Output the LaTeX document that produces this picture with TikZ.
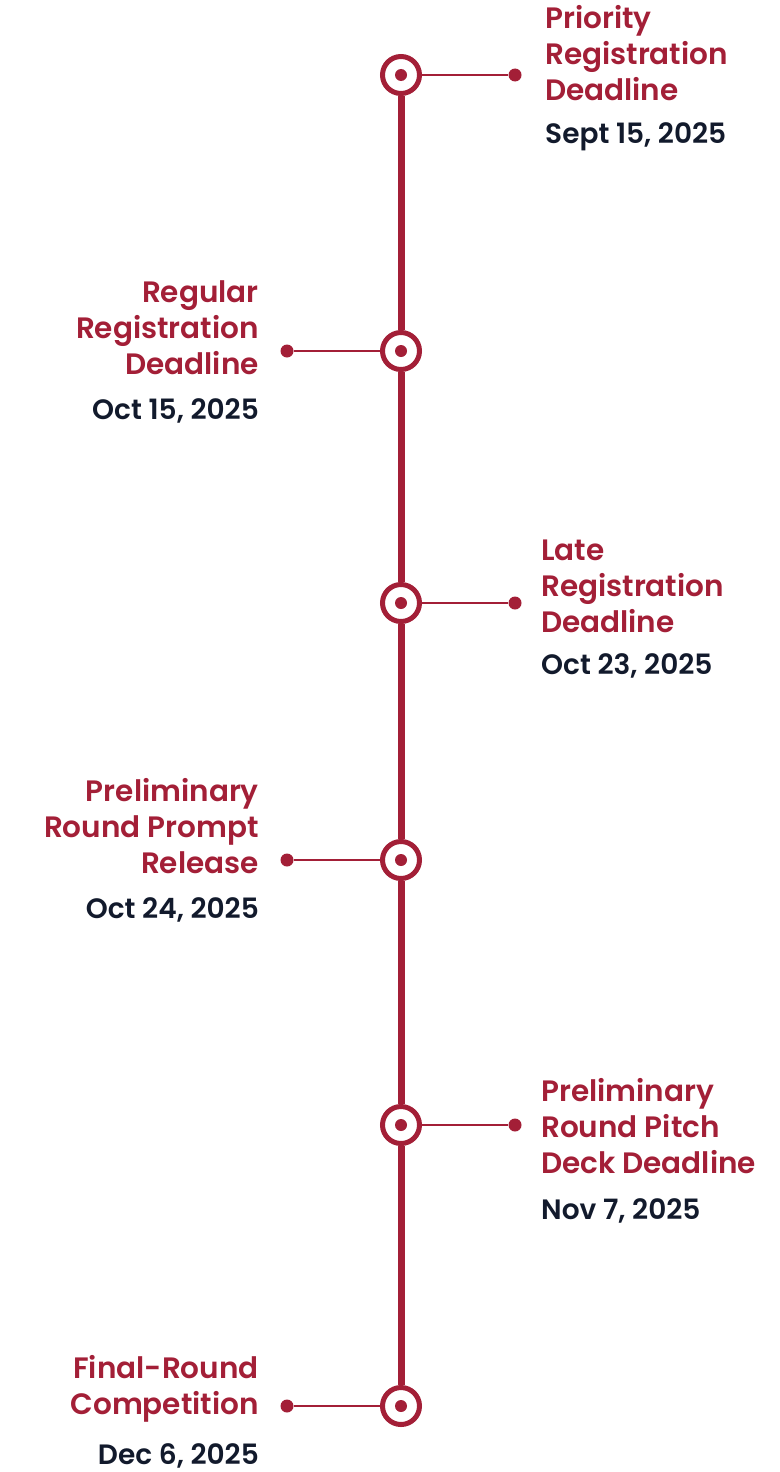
\documentclass[tikz,border=0pt]{standalone}
\usepackage{fontspec}
\setmainfont{Poppins}[UprightFont=* SemiBold]
\usepackage{tikz}
\usetikzlibrary{positioning}
\definecolor{brand}{HTML}{A31F37}
\definecolor{ink}{HTML}{121A2C}

\begin{document}
\begin{tikzpicture}[x=1pt, y=-1pt,
    milestone/.style={circle, draw=brand, line width=5pt, fill=white, minimum size=37pt, inner sep=0pt,
        path picture={\fill[brand] (path picture bounding box.center) circle (6pt);}},
    enddot/.style={circle, fill=brand, minimum size=13pt, inner sep=0pt},
    spine/.style={line width=7pt, color=brand},
    link/.style={line width=2pt, color=brand},
    title/.style={font=\fontsize{29.5}{36}\selectfont, text=brand, inner sep=0pt},
    date/.style={font=\fontsize{28}{32}\selectfont, text=ink, inner sep=0pt}
]
    \useasboundingbox (0,0) rectangle (779,1472);

    % Milestones on the spine
    \node[milestone] (m1) at (401,75) {};
    \node[milestone] (m2) at (401,351) {};
    \node[milestone] (m3) at (401,603) {};
    \node[milestone] (m4) at (401,860) {};
    \node[milestone] (m5) at (401,1125) {};
    \node[milestone] (m6) at (401,1406) {};

    \draw[spine] (m1) -- (m2);
    \draw[spine] (m2) -- (m3);
    \draw[spine] (m3) -- (m4);
    \draw[spine] (m4) -- (m5);
    \draw[spine] (m5) -- (m6);

    % Connector ends
    \node[enddot] (e1) at (515,75) {};
    \node[enddot] (e2) at (287,351) {};
    \node[enddot] (e3) at (515,603) {};
    \node[enddot] (e4) at (287,860) {};
    \node[enddot] (e5) at (515,1125) {};
    \node[enddot] (e6) at (287,1406) {};

    \draw[link] (m1) -- (e1);
    \draw[link] (m2) -- (e2);
    \draw[link] (m3) -- (e3);
    \draw[link] (m4) -- (e4);
    \draw[link] (m5) -- (e5);
    \draw[link] (m6) -- (e6);

    % Labels (anchored at the last title line)
    \node[title, align=left, anchor=base west] (t1) at (545,100) {Priority\\Registration\\Deadline};
    \node[date, anchor=base west] (d1) at (545,143) {Sept 15, 2025};

    \node[title, align=right, anchor=base east] (t2) at (259,374) {Regular\\Registration\\Deadline};
    \node[date, anchor=base east] (d2) at (259,419) {Oct 15, 2025};

    \node[title, align=left, anchor=base west] (t3) at (541,632) {Late\\Registration\\Deadline};
    \node[date, anchor=base west] (d3) at (541,674) {Oct 23, 2025};

    \node[title, align=right, anchor=base east] (t4) at (259,873) {Preliminary\\Round Prompt\\Release};
    \node[date, anchor=base east] (d4) at (259,918) {Oct 24, 2025};

    \node[title, align=left, anchor=base west] (t5) at (541,1173) {Preliminary\\Round Pitch\\Deck Deadline};
    \node[date, anchor=base west] (d5) at (541,1219) {Nov 7, 2025};

    \node[title, align=right, anchor=base east] (t6) at (259,1414) {Final-Round\\Competition};
    \node[date, anchor=base east] (d6) at (259,1464) {Dec 6, 2025};
\end{tikzpicture}
\end{document}
